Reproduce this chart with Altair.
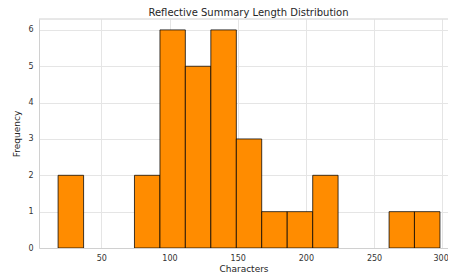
import altair as alt
import pandas as pd

bin_start = [18.3, 37.0, 55.6, 74.3, 93.0, 111.6, 130.3, 149.0, 167.6, 186.3, 205.0, 223.6, 242.3, 261.0, 279.6]
bin_end = [37.0, 55.6, 74.3, 93.0, 111.6, 130.3, 149.0, 167.6, 186.3, 205.0, 223.6, 242.3, 261.0, 279.6, 298.3]
counts = [2, 0, 0, 2, 6, 5, 6, 3, 1, 1, 2, 0, 0, 1, 1]
x_ticks = [50, 100, 150, 200, 250, 300]
y_ticks = [0, 1, 2, 3, 4, 5, 6]

df = pd.DataFrame({"start": bin_start, "end": bin_end, "count": counts})
df = df[df["count"] > 0]

font = "DejaVu Sans"
W, H = 409, 229
frame = "#d0d0d0"

bars = alt.Chart(df).mark_bar(
    color="#ff8c00", stroke="#000000", strokeOpacity=0.75, strokeWidth=1, clip=True
).encode(
    x=alt.X("start:Q", scale=alt.Scale(domain=[4.3, 304.2], nice=False, zero=False),
            axis=alt.Axis(title="Characters", values=x_ticks, grid=True, ticks=False,
                          domain=True, domainColor=frame, labelPadding=6, titlePadding=2,
                          labelFlush=7, labelFlushOffset=6)),
    x2="end:Q",
    y=alt.Y("count:Q", scale=alt.Scale(domain=[0, 6.3], nice=False),
            axis=alt.Axis(title="Frequency", values=y_ticks, grid=True, ticks=False,
                          domain=True, domainColor=frame, labelPadding=6, titlePadding=6)),
    y2=alt.datum(0),
)

top_line = alt.Chart(pd.DataFrame({"k": [0]})).mark_rule(color=frame, strokeWidth=1).encode(
    x=alt.value(0), x2=alt.value(W), y=alt.value(0)
)

chart = alt.layer(bars, top_line).properties(
    width=W, height=H,
    title=alt.TitleParams("Reflective Summary Length Distribution", fontSize=10,
                          font=font, fontWeight="normal", color="#262626", offset=1,
                          dx=5),
    autosize=alt.AutoSizeParams(type="none"),
    padding={"left": 31, "top": 11, "right": 0, "bottom": 24},
).configure_axis(
    labelFont=font, titleFont=font, labelFontSize=8, titleFontSize=9,
    labelColor="#333333", titleColor="#262626", titleFontWeight="normal",
    gridColor="#e5e5e5", gridWidth=1,
).configure_view(
    stroke=None,
)

chart.save("out.html", embed_options={"renderer": "svg", "actions": False})
